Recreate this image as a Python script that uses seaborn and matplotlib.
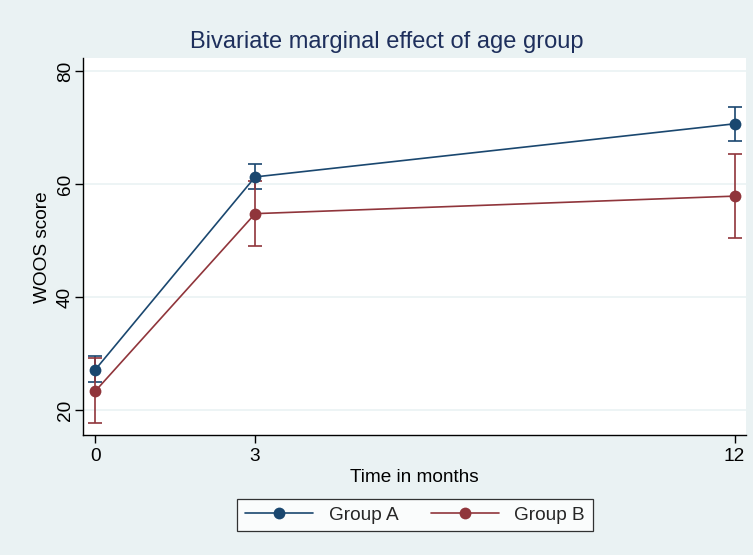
import matplotlib as mpl
import matplotlib.pyplot as plt
import seaborn as sns
import pandas as pd
import numpy as np

# values (means and 95% CI bounds)
months = [0, 3, 12]
groups = ['Group A', 'Group B']
mean_a = [27.2, 61.3, 70.7]
low_a = [25.0, 59.1, 67.7]
high_a = [29.6, 63.5, 73.7]
mean_b = [23.4, 54.8, 57.9]
low_b = [17.7, 49.0, 50.5]
high_b = [29.3, 60.6, 65.3]

colors = {'Group A': '#1A476F', 'Group B': '#90353B'}
bg = '#EAF2F3'

sns.set_theme(style='white')
plt.rcParams['font.family'] = ['Liberation Sans', 'DejaVu Sans']

df = pd.DataFrame({
  'Time': months * 2,
  'Score': mean_a + mean_b,
  'Low': low_a + low_b,
  'High': high_a + high_b,
  'Group': ['Group A'] * 3 + ['Group B'] * 3,
})

fig = plt.figure(figsize=(7.53, 5.55), dpi=100, facecolor=bg)
ax = fig.add_axes([0.110, 0.216, 0.881, 0.679])
ax.set_facecolor('white')

sns.lineplot(data=df, x='Time', y='Score', hue='Group', palette=colors,
             marker='o', markersize=8.5, markeredgewidth=0, linewidth=1.2,
             ax=ax, legend=False, zorder=3)

for g in groups:
  d = df[df['Group'] == g]
  ax.errorbar(d['Time'], d['Score'],
              yerr=[d['Score'] - d['Low'], d['High'] - d['Score']],
              fmt='none', ecolor=colors[g], elinewidth=1.2, capsize=4.8, capthick=1.2, zorder=2)

ax.set_xlim(-0.235, 12.22)
ax.set_ylim(15.6, 82.3)
ax.set_xticks(months)
ax.set_yticks([20, 40, 60, 80])
ax.yaxis.grid(True, color=bg, linewidth=1.2)
ax.set_axisbelow(True)
for s in ['top', 'right']:
  ax.spines[s].set_visible(False)
for s in ['left', 'bottom']:
  ax.spines[s].set_color('black')
  ax.spines[s].set_linewidth(1)
ax.tick_params(axis='both', which='both', direction='out', length=6, width=1, color='black',
               labelsize=13.7, labelcolor='black', left=True, bottom=True)
ax.tick_params(axis='y', pad=0.5)
plt.setp(ax.get_yticklabels(), rotation=90, va='center')

ax.set_xlabel('Time in months', fontsize=13.7, color='black', labelpad=3)
ax.set_ylabel('WOOS score', fontsize=13.7, color='black', labelpad=4)
fig.text(0.513, 0.924, 'Bivariate marginal effect of age group', fontsize=17,
         color='#1E2F5C', ha='center', va='center')

handles = [mpl.lines.Line2D([], [], color=colors[g], marker='o', markersize=8.5,
                            markeredgewidth=0, linewidth=1.2) for g in groups]
leg = fig.legend(handles, groups, loc='center', bbox_to_anchor=(0.551, 0.072), ncol=2,
                 fontsize=13.7, frameon=True, fancybox=False, edgecolor='black',
                 handlelength=3.6, columnspacing=1.7, numpoints=1, borderpad=0.4)
leg.get_frame().set_linewidth(0.9)

fig.savefig('out.png', dpi=100, facecolor=bg)
